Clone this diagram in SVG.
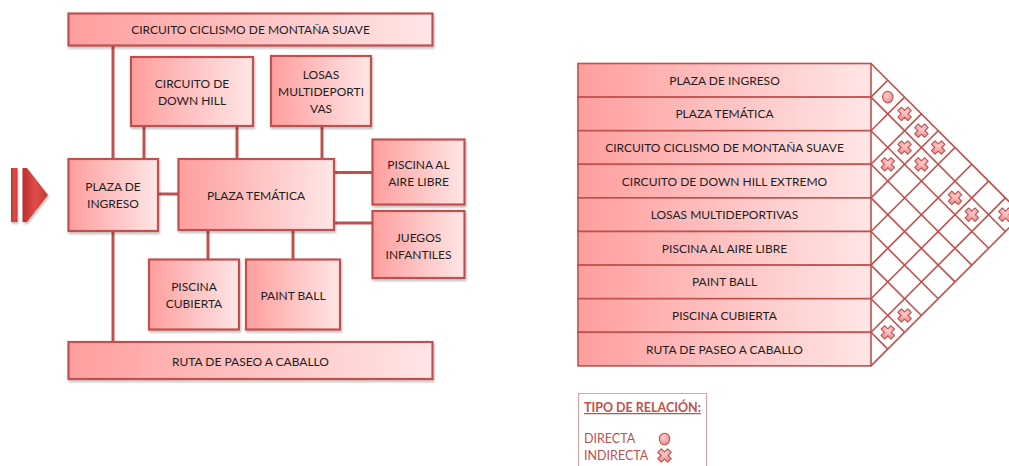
<svg xmlns="http://www.w3.org/2000/svg" width="1009" height="466" viewBox="0 0 1009 466">
<defs>
<linearGradient id="g" x1="0" y1="0" x2="1" y2="0">
<stop offset="0" stop-color="#ff9e9e"/>
<stop offset="1" stop-color="#ffe6e6"/>
</linearGradient>
<linearGradient id="ga" x1="0" y1="0" x2="1" y2="0">
<stop offset="0" stop-color="#b8302c"/>
<stop offset="0.5" stop-color="#e04c48"/>
<stop offset="1" stop-color="#c23a36"/>
</linearGradient>
<radialGradient id="gm" cx="0.4" cy="0.35" r="0.7">
<stop offset="0" stop-color="#ffd0d0"/>
<stop offset="1" stop-color="#ee8c8c"/>
</radialGradient>
<filter id="sh" x="-10%" y="-10%" width="120%" height="130%">
<feDropShadow dx="1" dy="2" stdDeviation="1.2" flood-color="#000" flood-opacity="0.25"/>
</filter>
<g id="xm">
<path transform="rotate(45)" d="M2.5,-7 L2.5,-2.5 L7,-2.5 L7,2.5 L2.5,2.5 L2.5,7 L-2.5,7 L-2.5,2.5 L-7,2.5 L-7,-2.5 L-2.5,-2.5 L-2.5,-7 Z" fill="url(#gm)" stroke="#c0504d" stroke-width="1.1" stroke-linejoin="round"/>
</g>
<g id="om">
<ellipse cx="0" cy="0" rx="5.2" ry="5.8" fill="url(#gm)" stroke="#c0504d" stroke-width="1.1"/>
</g>
</defs>
<style>
.box{fill:url(#g);stroke:#c0504d;stroke-width:2.2;filter:url(#sh)}
.row{fill:url(#g);stroke:#c0504d;stroke-width:1.6}
.t{font-family:Lato,"Liberation Sans",sans-serif;font-size:12px;fill:#1e1e1e;text-anchor:middle;dominant-baseline:central}
.c{stroke:#c0504d;stroke-width:3;fill:none}
.gl{stroke:#c0504d;stroke-width:1.6;fill:none}
.lg{font-family:Lato,"Liberation Sans",sans-serif;font-size:12.5px;fill:#c0504d}
</style>
<rect width="1009" height="466" fill="#ffffff"/>

<g id="arrow">
<rect x="11" y="168" width="6.5" height="54" fill="url(#ga)" filter="url(#sh)"/>
<polygon points="22.5,168 27,168 48,195 27,222 22.5,222" fill="url(#ga)" filter="url(#sh)"/>
</g>

<g id="connectors">
<line class="c" x1="113" y1="45" x2="113" y2="159"/>
<line class="c" x1="113" y1="231" x2="113" y2="342"/>
<line class="c" x1="144" y1="126" x2="144" y2="159"/>
<line class="c" x1="237" y1="126" x2="237" y2="159"/>
<line class="c" x1="322" y1="126" x2="322" y2="159"/>
<line class="c" x1="158" y1="194" x2="178" y2="194"/>
<line class="c" x1="334" y1="172.5" x2="372" y2="172.5"/>
<line class="c" x1="334" y1="223" x2="372" y2="223"/>
<line class="c" x1="208" y1="230" x2="208" y2="259"/>
<line class="c" x1="293" y1="230" x2="293" y2="259"/>
</g>

<g id="n-ciclismo"><rect class="box" x="68.5" y="13.5" width="364" height="32"/><text class="t" x="250.5" y="29.5">CIRCUITO CICLISMO DE MONTAÑA SUAVE</text></g>
<g id="n-downhill"><rect class="box" x="131" y="57" width="122" height="69"/><text class="t" x="192" y="83">CIRCUITO DE</text><text class="t" x="192" y="100">DOWN HILL</text></g>
<g id="n-losas"><rect class="box" x="271" y="56" width="100" height="70"/><text class="t" x="321" y="74">LOSAS</text><text class="t" x="321" y="91">MULTIDEPORTI</text><text class="t" x="321" y="108">VAS</text></g>
<g id="n-plazaingreso"><rect class="box" x="68.5" y="159" width="89.5" height="72"/><text class="t" x="113" y="186">PLAZA DE</text><text class="t" x="113" y="203">INGRESO</text></g>
<g id="n-plazatematica"><rect class="box" x="178.5" y="159" width="155.5" height="71"/><text class="t" x="256" y="195">PLAZA TEMÁTICA</text></g>
<g id="n-piscinaaire"><rect class="box" x="372.5" y="139.5" width="92" height="65"/><text class="t" x="418.5" y="164">PISCINA AL</text><text class="t" x="418.5" y="181">AIRE LIBRE</text></g>
<g id="n-juegos"><rect class="box" x="372.5" y="211" width="92" height="67"/><text class="t" x="418.5" y="237">JUEGOS</text><text class="t" x="418.5" y="254">INFANTILES</text></g>
<g id="n-piscinacub"><rect class="box" x="149" y="259.5" width="90" height="70"/><text class="t" x="194" y="286">PISCINA</text><text class="t" x="194" y="303">CUBIERTA</text></g>
<g id="n-paintball"><rect class="box" x="246" y="259.5" width="94" height="70"/><text class="t" x="293" y="295">PAINT BALL</text></g>
<g id="n-ruta"><rect class="box" x="68.5" y="342" width="364" height="37"/><text class="t" x="250.5" y="361">RUTA DE PASEO A CABALLO</text></g>

<g id="matrix-rows">
<rect class="row" x="578" y="63.5" width="293" height="33.6"/><text class="t" x="724.5" y="80.3">PLAZA DE INGRESO</text>
<rect class="row" x="578" y="97.1" width="293" height="33.6"/><text class="t" x="724.5" y="113.9">PLAZA TEMÁTICA</text>
<rect class="row" x="578" y="130.7" width="293" height="33.6"/><text class="t" x="724.5" y="147.5">CIRCUITO CICLISMO DE MONTAÑA SUAVE</text>
<rect class="row" x="578" y="164.3" width="293" height="33.6"/><text class="t" x="724.5" y="181.1">CIRCUITO DE DOWN HILL EXTREMO</text>
<rect class="row" x="578" y="197.9" width="293" height="33.6"/><text class="t" x="724.5" y="214.7">LOSAS MULTIDEPORTIVAS</text>
<rect class="row" x="578" y="231.5" width="293" height="33.6"/><text class="t" x="724.5" y="248.3">PISCINA AL AIRE LIBRE</text>
<rect class="row" x="578" y="265.1" width="293" height="33.6"/><text class="t" x="724.5" y="281.9">PAINT BALL</text>
<rect class="row" x="578" y="298.7" width="293" height="33.6"/><text class="t" x="724.5" y="315.5">PISCINA CUBIERTA</text>
<rect class="row" x="578" y="332.3" width="293" height="33.6"/><text class="t" x="724.5" y="349.1">RUTA DE PASEO A CABALLO</text>
</g>

<g id="matrix-grid">
<path class="gl" d="M871,63.5 L1022.2,214.7 M871,97.1 L1005.4,231.5 M871,130.7 L988.6,248.3 M871,164.3 L971.8,265.1 M871,197.9 L955,281.9 M871,231.5 L938.2,298.7 M871,265.1 L921.4,315.5 M871,298.7 L904.6,332.3 M871,332.3 L887.8,349.1"/>
<path class="gl" d="M871,97.1 L887.8,80.3 M871,130.7 L904.6,97.1 M871,164.3 L921.4,113.9 M871,197.9 L938.2,130.7 M871,231.5 L955,147.5 M871,265.1 L971.8,164.3 M871,298.7 L988.6,181.1 M871,332.3 L1005.4,197.9 M871,365.9 L1022.2,214.7"/>
</g>

<g id="matrix-marks">
<use href="#om" x="887.8" y="97.1"/>
<use href="#xm" x="904.6" y="113.9"/>
<use href="#xm" x="921.4" y="130.7"/>
<use href="#xm" x="904.6" y="147.5"/>
<use href="#xm" x="938.2" y="147.5"/>
<use href="#xm" x="887.8" y="164.3"/>
<use href="#xm" x="921.4" y="164.3"/>
<use href="#xm" x="955" y="197.9"/>
<use href="#xm" x="971.8" y="214.7"/>
<use href="#xm" x="1005.4" y="214.7"/>
<use href="#xm" x="904.6" y="315.5"/>
<use href="#xm" x="887.8" y="332.3"/>
</g>

<g id="legend">
<rect x="578.5" y="393.5" width="128" height="80" fill="#ffffff" stroke="#e0a0a0" stroke-width="1"/>
<text class="lg" x="584" y="412" font-weight="bold" text-decoration="underline">TIPO DE RELACIÓN:</text>
<text class="lg" x="584" y="443">DIRECTA</text>
<text class="lg" x="584" y="460">INDIRECTA</text>
<use href="#om" x="664.5" y="439"/>
<use href="#xm" x="664.5" y="455.5"/>
</g>
</svg>
